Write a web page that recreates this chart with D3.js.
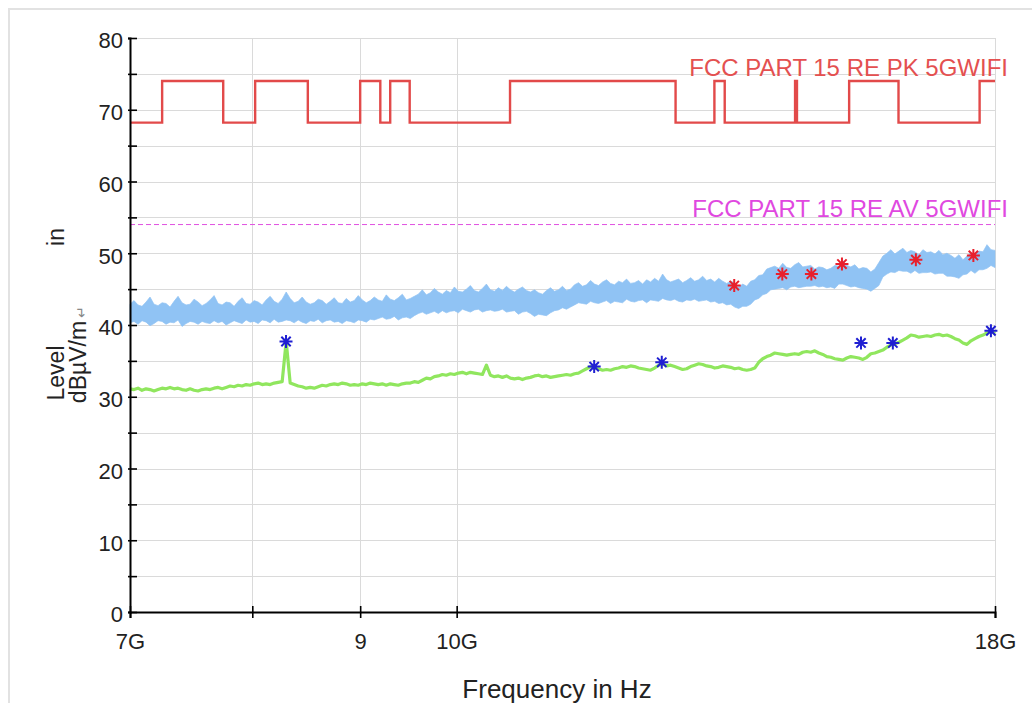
<!DOCTYPE html>
<html>
<head>
<meta charset="utf-8">
<script src="https://cdn.jsdelivr.net/npm/d3@7"></script>
<style>
  html, body { margin: 0; padding: 0; background: #ffffff; }
  svg { display: block; font-family: "Liberation Sans", Arial, sans-serif; }
</style>
</head>
<body>
<svg id="chart" width="1032" height="703"></svg>
<script>
// ---- Data -------------------------------------------------------------
// Frequency axis (Hz) and labelled ticks
const xTickValues = [7e9, 8e9, 9e9, 10e9, 18e9];
const xTickLabels = ["7G", "", "9", "10G", "18G"];
const yTickValues = [0, 5, 10, 15, 20, 25, 30, 35, 40, 45, 50, 55, 60, 65, 70, 75, 80];

// Peak limit (dBµV/m): band edges in GHz and the level that starts at each edge
const pkEdgesGHz = [7.0, 7.25, 7.75, 8.025, 8.5, 9.0, 9.2, 9.3, 9.5, 10.6, 12.7, 13.25, 13.4, 14.47, 14.5, 15.35, 16.2, 17.7, 18.0];
const pkLevels   = [68.2, 74, 68.2, 74, 68.2, 74, 68.2, 74, 68.2, 74, 68.2, 74, 68.2, 74, 68.2, 74, 68.2, 74, 74];

// Average limit (dBµV/m)
const avLimit = 54;

// Peak detector trace, per display column: max and min level (dBµV/m)
const peakMax = [
  42.9, 43.4, 42.8, 42.6, 43.2, 43.9, 42.9, 42.7, 43.1, 43.0,
  42.5, 43.3, 44.0, 43.1, 42.8, 42.9, 43.6, 43.2, 42.7, 43.0,
  43.5, 44.1, 43.0, 42.8, 43.2, 43.1, 42.6, 43.3, 43.8, 43.0,
  42.9, 43.4, 43.2, 42.8, 43.5, 44.0, 43.3, 43.0, 43.6, 44.6,
  43.7, 43.1, 43.3, 43.9, 43.2, 42.9, 43.1, 43.6, 43.4, 42.9,
  43.3, 43.8, 43.1, 43.0, 43.7, 43.2, 43.4, 44.1, 43.5, 43.1,
  43.4, 43.9, 43.5, 43.3, 44.2, 43.6, 43.4, 43.8, 44.3, 43.5,
  43.7, 44.0, 44.3, 44.9, 44.2, 44.5, 45.1, 44.6, 44.3, 44.8,
  44.5, 45.3, 44.7, 44.6, 45.0, 45.5, 44.8, 44.6, 45.1, 45.7,
  44.9, 44.7, 45.2, 44.8, 45.4, 44.9, 44.6, 45.0, 45.3, 44.8,
  44.6, 44.9, 44.5, 44.3, 44.8, 45.2, 44.7, 44.9, 45.4, 44.8,
  45.0, 45.6, 45.9, 45.4, 45.6, 46.2, 45.7, 45.5, 46.0, 46.3,
  45.8, 45.6, 46.1, 45.9, 46.4, 45.8, 45.9, 46.2, 45.7, 46.3,
  46.0, 46.5, 46.1, 47.1, 46.3, 46.0, 46.2, 46.4, 45.9, 46.2,
  46.6, 46.1, 46.3, 46.8, 46.2, 46.4, 46.0, 46.5, 46.1, 45.8,
  46.1, 45.9, 45.3, 45.7, 45.4, 46.1, 46.3, 46.9, 47.0, 47.8,
  48.0, 48.2, 47.9, 48.6, 48.0, 47.9, 48.4, 48.7, 48.1, 48.2,
  48.3, 47.8, 48.1, 48.0, 47.7, 47.9, 48.3, 48.2, 49.0, 48.3,
  48.1, 48.4, 47.8, 48.0, 47.9, 47.4, 47.8, 48.7, 49.6, 50.0,
  50.5, 49.9, 50.3, 50.7, 50.1, 50.4, 50.2, 49.8, 50.5, 50.1,
  50.2, 49.9, 50.4, 49.8, 50.0, 49.7, 49.3, 49.8, 49.1, 49.6,
  50.1, 49.8, 50.3, 50.2, 51.2, 50.5, 50.4
];
const peakMin = [
  40.3, 40.5, 40.1, 40.6, 40.4, 39.9, 40.2, 40.6, 40.5, 40.1,
  40.4, 40.3, 40.7, 39.8, 40.2, 40.5, 40.4, 40.1, 40.5, 40.3,
  40.2, 40.6, 40.3, 40.5, 40.0, 40.3, 40.6, 40.4, 40.2, 40.7,
  40.4, 40.5, 40.2, 40.7, 40.6, 40.3, 40.8, 40.4, 40.5, 40.7,
  40.6, 40.3, 40.7, 40.4, 40.2, 40.6, 40.5, 40.8, 40.3, 40.6,
  40.7, 40.4, 40.5, 40.2, 40.6, 40.5, 40.3, 40.7, 40.6, 40.4,
  40.8, 40.7, 40.9, 41.1, 40.8, 40.9, 41.2, 40.7, 41.0, 41.1,
  40.9, 41.3, 41.6, 41.8, 41.5, 41.7, 41.9, 41.6, 42.0, 41.7,
  41.9, 42.0, 41.7, 42.2, 42.0, 41.8, 42.1, 42.2, 41.8, 42.0,
  42.1, 41.9, 42.0, 42.2, 41.8, 41.9, 42.0, 41.5, 41.8, 41.9,
  41.6, 41.2, 41.5, 41.4, 41.3, 41.7, 42.0, 42.1, 42.4, 42.2,
  42.5, 42.8, 43.1, 43.0, 42.9, 43.3, 43.1, 43.0, 43.2, 43.4,
  43.0, 43.3, 43.2, 43.1, 43.6, 43.3, 43.2, 43.4, 43.5, 43.1,
  43.5, 43.4, 43.3, 43.7, 43.5, 43.4, 43.6, 43.3, 43.2, 43.5,
  43.4, 43.6, 43.3, 43.4, 43.5, 43.2, 43.3, 43.0, 43.1, 42.8,
  42.9, 42.5, 42.3, 42.6, 42.6, 42.9, 43.5, 43.7, 44.2, 44.4,
  44.9, 45.0, 45.1, 45.2, 44.9, 45.3, 45.4, 45.2, 45.3, 45.4,
  45.4, 45.5, 45.3, 45.4, 45.2, 45.3, 45.1, 45.7, 45.7, 45.5,
  45.3, 45.4, 45.2, 45.1, 45.0, 44.7, 45.1, 45.5, 46.7, 47.1,
  47.4, 47.3, 47.6, 47.5, 47.5, 47.2, 47.6, 47.2, 47.3, 47.3,
  47.4, 47.1, 47.2, 47.2, 46.8, 46.8, 46.7, 46.5, 47.0, 47.1,
  47.6, 47.2, 47.7, 47.7, 47.9, 48.3, 48.0
];

// Average detector trace, per display column (dBµV/m)
const avgTrace = [
  31.1, 31.0, 31.2, 30.9, 31.1, 31.0, 30.8, 31.0, 31.2, 31.1,
  31.3, 31.1, 31.2, 31.0, 30.9, 31.1, 30.9, 30.8, 31.0, 31.1,
  31.0, 31.2, 31.3, 31.1, 31.3, 31.5, 31.4, 31.6, 31.5, 31.7,
  31.6, 31.8, 31.9, 31.7, 31.8, 31.7, 31.9, 32.0, 32.1, 37.7,
  31.9, 31.7, 31.5, 31.4, 31.2, 31.3, 31.2, 31.4, 31.6, 31.5,
  31.7, 31.8, 31.7, 31.9, 31.8, 31.6, 31.7, 31.6, 31.8, 31.7,
  31.9, 31.8, 31.7, 31.8, 31.6, 31.8, 31.7, 31.6, 31.8, 31.9,
  31.9, 32.1, 32.0, 32.3, 32.6, 32.5, 32.8, 32.9, 33.1, 33.0,
  33.2, 33.1, 33.3, 33.4, 33.2, 33.4, 33.3, 33.2, 33.1, 34.4,
  33.0, 32.8, 32.9, 32.7, 32.9, 32.6, 32.5, 32.6, 32.4, 32.6,
  32.7, 32.9, 33.0, 32.8, 32.9, 32.7, 32.8, 32.9, 33.0, 33.1,
  33.0, 33.2, 33.3, 33.6, 33.9, 34.2, 34.0, 33.9, 33.7, 33.8,
  33.7, 33.9, 34.0, 34.2, 34.1, 34.3, 34.2, 34.0, 33.9, 33.8,
  33.7, 34.0, 34.4, 34.6, 34.3, 34.4, 34.2, 34.0, 33.8, 33.9,
  34.2, 34.4, 34.6, 34.5, 34.3, 34.2, 34.0, 34.1, 34.3, 34.2,
  34.1, 33.9, 34.0, 33.8, 33.7, 33.8, 34.0, 34.8, 35.3, 35.6,
  35.8, 36.1, 36.0, 35.9, 35.8, 35.9, 36.0, 35.9, 36.2, 36.3,
  36.2, 36.4, 36.1, 35.9, 35.6, 35.5, 35.3, 35.2, 35.1, 35.4,
  35.6, 35.5, 35.4, 35.2, 35.5, 36.0, 36.1, 36.3, 36.5, 36.9,
  37.2, 37.4, 37.6, 37.9, 38.2, 38.6, 38.5, 38.3, 38.4, 38.5,
  38.4, 38.6, 38.7, 38.5, 38.6, 38.4, 38.1, 37.9, 37.5, 37.3,
  37.8, 38.1, 38.4, 38.6, 38.9, 39.1, 38.8
];

// Final peak readings (GHz, dBµV/m)
const peakMarkFreqGHz = [13.54, 14.27, 14.73, 15.23, 16.51, 17.58];
const peakMarkLevel   = [45.5, 47.1, 47.1, 48.5, 49.1, 49.7];

// Final average readings (GHz, dBµV/m)
const avgMarkFreqGHz = [8.30, 11.62, 12.51, 15.55, 16.10, 17.92];
const avgMarkLevel   = [37.7, 34.2, 34.8, 37.5, 37.5, 39.2];

// ---- Layout -----------------------------------------------------------
const svg = d3.select("#chart");
const plotLeft = 130, plotRight = 995, plotTop = 38, plotBottom = 612;
const font = 22;

const x = d3.scaleLog().domain([7e9, 18e9]).range([plotLeft, plotRight]);
const y = d3.scaleLinear().domain([0, 80]).range([plotBottom, plotTop]);

// display columns, evenly spaced along the logarithmic frequency axis
const nCols = peakMax.length;
const colFreq = d3.range(nCols).map(i => 7e9 * Math.pow(18 / 7, i / (nCols - 1)));

// outer frame
svg.append("rect")
  .attr("x", 9).attr("y", 9).attr("width", 1100).attr("height", 800)
  .attr("fill", "none").attr("stroke", "#e2e2e2").attr("stroke-width", 2);

// grid
const grid = svg.append("g").attr("stroke", "#dadada").attr("stroke-width", 1);
grid.selectAll("line.h").data(yTickValues).join("line").attr("class", "h")
  .attr("x1", plotLeft).attr("x2", plotRight)
  .attr("y1", d => Math.round(y(d)) + 0.5).attr("y2", d => Math.round(y(d)) + 0.5);
grid.selectAll("line.v").data(xTickValues.slice(1)).join("line").attr("class", "v")
  .attr("y1", plotTop).attr("y2", plotBottom)
  .attr("x1", d => Math.round(x(d)) + 0.5).attr("x2", d => Math.round(x(d)) + 0.5);

// ---- Traces -----------------------------------------------------------
// peak detector band (min/max per column)
svg.append("path")
  .datum(d3.range(nCols))
  .attr("fill", "#90c3f4")
  .attr("stroke", "#90c3f4")
  .attr("stroke-width", 0.7)
  .attr("d", d3.area()
    .x(i => x(colFreq[i]))
    .y0(i => y(peakMin[i]))
    .y1(i => y(peakMax[i])));

// average detector trace
svg.append("path")
  .datum(d3.range(nCols))
  .attr("fill", "none")
  .attr("stroke", "#90e65e")
  .attr("stroke-width", 3.2)
  .attr("stroke-linejoin", "round")
  .attr("d", d3.line()
    .x(i => x(colFreq[i]))
    .y(i => y(avgTrace[i])));

// ---- Limits -----------------------------------------------------------
svg.append("path")
  .datum(pkEdgesGHz.map((f, i) => [f * 1e9, pkLevels[i]]))
  .attr("fill", "none")
  .attr("stroke", "#e24a4a")
  .attr("stroke-width", 2.4)
  .attr("d", d3.line().curve(d3.curveStepAfter)
    .x(d => x(d[0])).y(d => y(d[1])));

svg.append("line")
  .attr("x1", plotLeft).attr("x2", plotRight)
  .attr("y1", y(avLimit)).attr("y2", y(avLimit))
  .attr("stroke", "#e050e0")
  .attr("stroke-width", 1)
  .attr("stroke-dasharray", "5,3");

svg.append("text")
  .attr("x", 1008).attr("y", 76)
  .attr("text-anchor", "end")
  .attr("font-size", 24)
  .attr("fill", "#e45050")
  .text("FCC PART 15 RE PK 5GWIFI");

svg.append("text")
  .attr("x", 1008).attr("y", 217)
  .attr("text-anchor", "end")
  .attr("font-size", 24)
  .attr("fill", "#e048e0")
  .text("FCC PART 15 RE AV 5GWIFI");

// ---- Markers ----------------------------------------------------------
function star(r) {
  const d = r * 0.72;
  return `M${-r},0L${r},0M0,${-r}L0,${r}M${-d},${-d}L${d},${d}M${-d},${d}L${d},${-d}`;
}
svg.append("g").selectAll("path")
  .data(peakMarkFreqGHz.map((f, i) => [f * 1e9, peakMarkLevel[i]]))
  .join("path")
  .attr("transform", d => `translate(${x(d[0])},${y(d[1])})`)
  .attr("d", star(6.5))
  .attr("stroke", "#e8202c").attr("stroke-width", 2).attr("fill", "none");

svg.append("g").selectAll("path")
  .data(avgMarkFreqGHz.map((f, i) => [f * 1e9, avgMarkLevel[i]]))
  .join("path")
  .attr("transform", d => `translate(${x(d[0])},${y(d[1])})`)
  .attr("d", star(6.5))
  .attr("stroke", "#1f1fd2").attr("stroke-width", 2).attr("fill", "none");

// ---- Axes -------------------------------------------------------------
const yAxis = svg.append("g")
  .attr("transform", `translate(${plotLeft},0)`)
  .call(d3.axisLeft(y).tickValues(yTickValues)
    .tickFormat(d => d % 10 === 0 ? d : "")
    .tickSize(2).tickPadding(5));
yAxis.select(".domain").attr("stroke", "#000").attr("stroke-width", 2);
yAxis.selectAll(".tick line").attr("x1", 7).attr("stroke", "#000").attr("stroke-width", 1.6);
yAxis.selectAll(".tick text")
  .attr("font-size", font).attr("font-family", "Liberation Sans, Arial, sans-serif")
  .attr("fill", "#222").attr("dy", "0.45em");

const xAxis = svg.append("g")
  .attr("transform", `translate(0,${plotBottom})`)
  .call(d3.axisBottom(x).tickValues(xTickValues)
    .tickFormat((d, i) => xTickLabels[i])
    .tickSize(6).tickPadding(15));
xAxis.select(".domain").attr("stroke", "#000").attr("stroke-width", 2);
xAxis.selectAll(".tick line").attr("y1", -6).attr("stroke", "#000").attr("stroke-width", 1.6);
xAxis.selectAll(".tick text")
  .attr("font-size", font).attr("font-family", "Liberation Sans, Arial, sans-serif")
  .attr("fill", "#222");

// axis titles
svg.append("text")
  .attr("x", 557).attr("y", 698)
  .attr("text-anchor", "middle")
  .attr("font-size", 26).attr("fill", "#222")
  .text("Frequency in Hz");

function vText(cx, cy, s, size, fill) {
  svg.append("text")
    .attr("transform", `translate(${cx},${cy}) rotate(-90)`)
    .attr("text-anchor", "middle")
    .attr("font-size", size).attr("fill", fill)
    .text(s);
}
vText(64, 237, "in", 23, "#222");
vText(64, 373, "Level", 23, "#222");
vText(86, 362, "dBµV/m", 23, "#222");
vText(86, 312, "↵", 14, "#888");
</script>
</body>
</html>
